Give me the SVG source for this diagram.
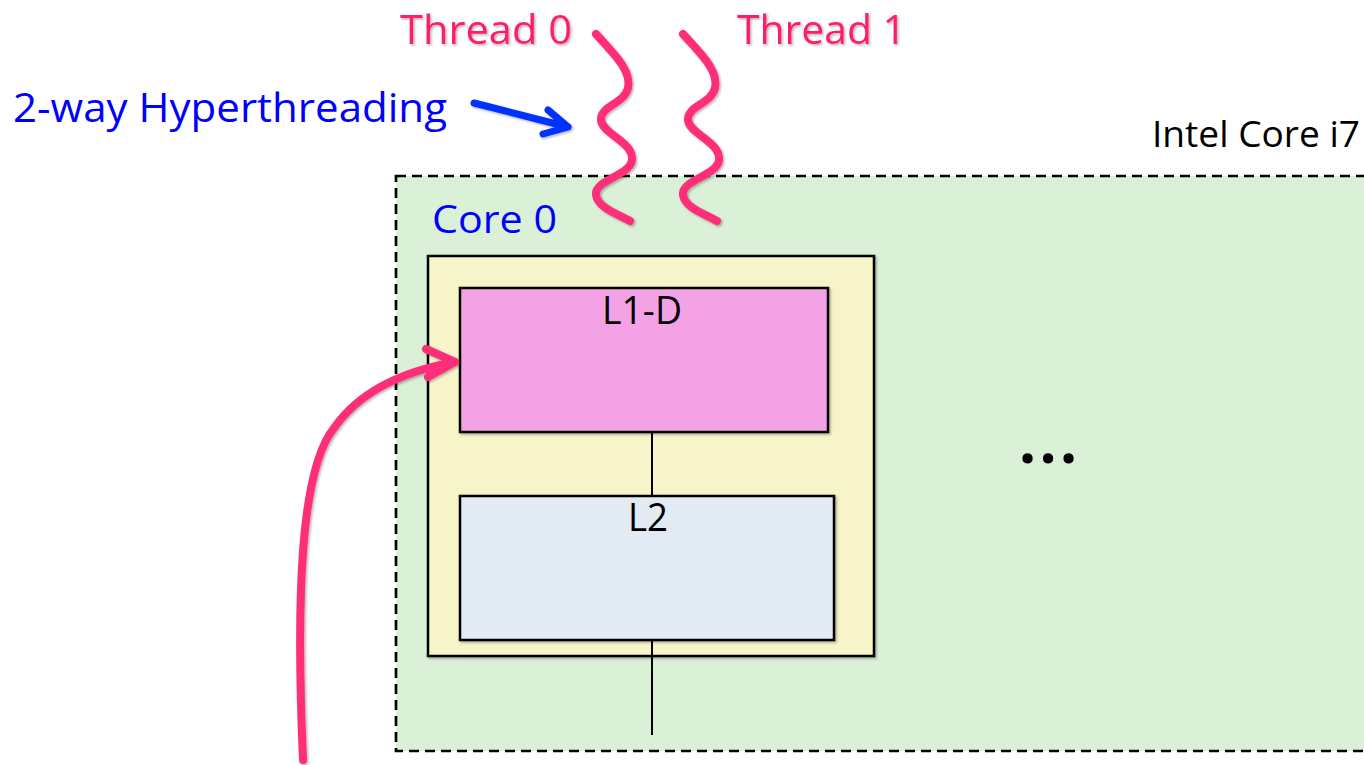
<svg xmlns="http://www.w3.org/2000/svg" width="1364" height="765" viewBox="0 0 1364 765">
<style>
text{font-family:"Open Sans","Liberation Sans",sans-serif}
.pk{fill:#FF1F6E}
.bl{fill:#0000FF}
.bk{fill:#000}
.wave{fill:none;stroke:#FF2D78;stroke-width:8;stroke-linecap:round}
.box{stroke:#000;stroke-width:2.5}
.ln{stroke:#000;stroke-width:2}
</style>
<defs>
<filter id="sh" x="-10%" y="-10%" width="130%" height="130%"><feDropShadow dx="1.5" dy="1.5" stdDeviation="1.2" flood-color="#000" flood-opacity="0.3"/></filter>
</defs>
<g id="chip">
<rect x="396" y="176" width="980" height="575" fill="#DAF1D7" stroke="#000" stroke-width="2.7" stroke-dasharray="10,6"/>
<text x="1152" y="147" font-size="37" textLength="208" lengthAdjust="spacingAndGlyphs" class="bk">Intel Core i7</text>
<text x="1019" y="463" font-size="60" font-weight="bold" textLength="58" class="bk">...</text>
</g>
<g id="core0">
<rect x="428" y="256" width="446" height="400" fill="#F7F4C9" class="box" filter="url(#sh)"/>
<text x="432" y="233" font-size="39" textLength="125" lengthAdjust="spacingAndGlyphs" class="bl">Core 0</text>
</g>
<g id="connectors">
<line x1="652" y1="425" x2="652" y2="496" class="ln"/>
<line x1="652" y1="640" x2="652" y2="735" class="ln"/>
</g>
<g id="l1d">
<rect x="460" y="288" width="368" height="144" fill="#F4A2E6" class="box" filter="url(#sh)"/>
<text x="602" y="324" font-size="38" textLength="80" lengthAdjust="spacingAndGlyphs" class="bk">L1-D</text>
</g>
<g id="l2">
<rect x="460" y="496" width="374" height="144" fill="#E2EAF4" class="box" filter="url(#sh)"/>
<text x="628" y="531" font-size="38" textLength="40" lengthAdjust="spacingAndGlyphs" class="bk">L2</text>
</g>
<g id="threads" filter="url(#sh)">
<text x="400" y="44" font-size="40" textLength="172" lengthAdjust="spacingAndGlyphs" class="pk">Thread 0</text>
<text x="737" y="44" font-size="40" textLength="169" lengthAdjust="spacingAndGlyphs" class="pk">Thread 1</text>
<path class="wave" d="M596,34 C612,52 632,70 628,88 C624,104 600,106 601,120 C602,134 634,142 632,160 C630,176 594,180 596,195 C598,208 618,214 630,221"/>
<path class="wave" d="M683,34 C699,52 719,70 715,88 C711,104 687,106 688,120 C689,134 721,142 719,160 C717,176 681,180 683,195 C685,208 705,214 717,221"/>
</g>
<g id="hyper">
<text x="13" y="122" font-size="40" textLength="434" lengthAdjust="spacingAndGlyphs" class="bl">2-way Hyperthreading</text>
<path d="M474,103 L568,127 M548,110 L568,127 L543,134" fill="none" stroke="#0033FF" stroke-width="7" stroke-linecap="round" stroke-linejoin="round" filter="url(#sh)"/>
</g>
<g id="access">
<path d="M303,760 C296,600 300,470 334,428 C362,388 410,370 455,362 M426,349 L455,362 L428,377" fill="none" stroke="#FF2D78" stroke-width="8" stroke-linecap="round" stroke-linejoin="round" filter="url(#sh)"/>
</g>
</svg>
